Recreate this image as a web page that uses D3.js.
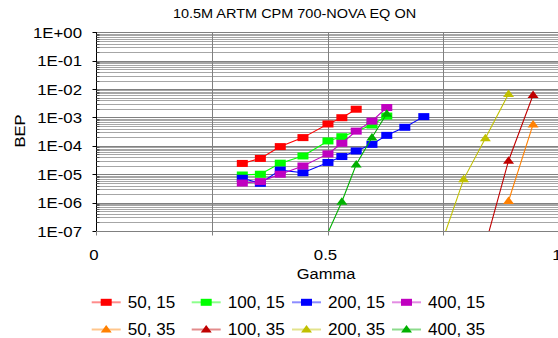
<!DOCTYPE html>
<html>
<head>
<meta charset="utf-8">
<script src="https://cdn.jsdelivr.net/npm/d3@7"></script>
<style>
  body { margin: 0; background: #fff; }
  svg { display: block; font-family: "Liberation Sans", Arial, sans-serif; }
</style>
</head>
<body>
<div id="chart"></div>
<script>
// series data (Gamma, BEP)
const seriesNames = ['50, 15', '100, 15', '200, 15', '400, 15', '50, 35', '100, 35', '200, 35', '400, 35'];
const gamma50_15 = [0.316, 0.355, 0.398, 0.447, 0.501, 0.531, 0.562];
const bep50_15 = [2.4e-5, 3.6e-5, 9.4e-5, 1.95e-4, 5.9e-4, 9.8e-4, 1.95e-3];
const gamma100_15 = [0.316, 0.355, 0.398, 0.447, 0.501, 0.531, 0.596, 0.628];
const bep100_15 = [9.4e-6, 1.0e-5, 2.45e-5, 4.4e-5, 1.49e-4, 2.1e-4, 5.4e-4, 1.12e-3];
const gamma200_15 = [0.316, 0.355, 0.398, 0.447, 0.501, 0.531, 0.562, 0.596, 0.628, 0.667, 0.708];
const bep200_15 = [7.2e-6, 4.8e-6, 1.4e-5, 1.13e-5, 2.6e-5, 4.2e-5, 6.6e-5, 1.13e-4, 2.34e-4, 4.5e-4, 1.07e-3];
const gamma400_15 = [0.316, 0.355, 0.398, 0.447, 0.501, 0.531, 0.562, 0.596, 0.628];
const bep400_15 = [4.9e-6, 5.5e-6, 1.0e-5, 1.95e-5, 5.2e-5, 1.23e-4, 3.3e-4, 7.4e-4, 2.24e-3];
const gamma50_35 = [0.891, 0.944];
const bep50_35 = [1.14e-6, 5.7e-4];
const gamma100_35 = [0.841, 0.891, 0.944];
const bep100_35 = [3.3e-8, 3.0e-5, 6.2e-3];
const gamma200_35 = [0.750, 0.794, 0.841, 0.891];
const bep200_35 = [5.5e-8, 6.6e-6, 1.85e-4, 6.7e-3];
const gamma400_35 = [0.501, 0.531, 0.562, 0.596, 0.628];
const bep400_35 = [8.7e-8, 1.07e-6, 2.2e-5, 1.96e-4, 1.35e-3];
const xTickLabels = [0, 0.5, 1];
const yTickLabels = ['1E+00', '1E-01', '1E-02', '1E-03', '1E-04', '1E-05', '1E-06', '1E-07'];

const colors = ['#ff0000', '#00ff00', '#0000ff', '#c000c0', '#ff8000', '#c00000', '#c0c000', '#00b000'];
const shapes = ['square', 'square', 'square', 'square', 'tri', 'tri', 'tri', 'tri'];
const allGamma = [gamma50_15, gamma100_15, gamma200_15, gamma400_15, gamma50_35, gamma100_35, gamma200_35, gamma400_35];
const allBep = [bep50_15, bep100_15, bep200_15, bep400_15, bep50_35, bep100_35, bep200_35, bep400_35];

const series = seriesNames.map((name, i) => ({
  name, color: colors[i], shape: shapes[i],
  values: allGamma[i].map((g, j) => ({ g, b: allBep[i][j] }))
}));

const width = 558, height = 338;
const plot = { left: 96, right: 559, top: 32.3, bottom: 231 };

const svg = d3.select('#chart').append('svg')
  .attr('width', width)
  .attr('height', height);

const x = d3.scaleLinear().domain([0, 1]).range([plot.left, plot.right]);
const y = d3.scaleLog().domain([1e-7, 1]).range([plot.bottom, plot.top]);

// stretched text like the original export
function label(sel, px, py, sx) {
  return sel.attr('transform', `translate(${px},${py}) scale(${sx},1)`);
}

// minor + major horizontal grid
const minor = [];
for (let e = -7; e < 0; e++) for (let m = 2; m <= 9; m++) minor.push(m * Math.pow(10, e));
const majorY = d3.range(-7, 1).map(e => Math.pow(10, e));

svg.append('g').selectAll('line').data(minor).enter().append('line')
  .attr('x1', plot.left).attr('x2', plot.right)
  .attr('y1', d => Math.round(y(d)) + 0.5).attr('y2', d => Math.round(y(d)) + 0.5)
  .attr('stroke', '#a6a6a6').attr('stroke-width', 1);

svg.append('g').selectAll('line').data(majorY).enter().append('line')
  .attr('x1', plot.left).attr('x2', plot.right)
  .attr('y1', d => Math.round(y(d)) + 0.5).attr('y2', d => Math.round(y(d)) + 0.5)
  .attr('stroke', '#808080').attr('stroke-width', 1);

// vertical grid
const xGrid = [0.25, 0.5, 0.75, 1];
svg.append('g').selectAll('line').data(xGrid).enter().append('line')
  .attr('x1', d => Math.round(x(d)) + 0.5).attr('x2', d => Math.round(x(d)) + 0.5)
  .attr('y1', plot.top).attr('y2', plot.bottom)
  .attr('stroke', '#808080').attr('stroke-width', 1);

// axes
const yAxisX = plot.left + 0.5;
svg.append('line')
  .attr('x1', yAxisX).attr('x2', yAxisX)
  .attr('y1', plot.top).attr('y2', plot.bottom + 0.5)
  .attr('stroke', '#000');
svg.append('g').selectAll('line').data(majorY).enter().append('line')
  .attr('x1', yAxisX - 4).attr('x2', yAxisX)
  .attr('y1', d => Math.round(y(d)) + 0.5).attr('y2', d => Math.round(y(d)) + 0.5)
  .attr('stroke', '#000');
svg.append('g').selectAll('line').data(minor).enter().append('line')
  .attr('x1', yAxisX).attr('x2', yAxisX + 3)
  .attr('y1', d => Math.round(y(d)) + 0.5).attr('y2', d => Math.round(y(d)) + 0.5)
  .attr('stroke', '#555');

const xAxisY = Math.round(plot.bottom) + 0.5;
svg.append('line')
  .attr('x1', plot.left).attr('x2', plot.right)
  .attr('y1', xAxisY).attr('y2', xAxisY)
  .attr('stroke', '#808080');
svg.append('g').selectAll('line').data([0, 0.25, 0.5, 0.75, 1]).enter().append('line')
  .attr('x1', d => Math.round(x(d)) + 0.5).attr('x2', d => Math.round(x(d)) + 0.5)
  .attr('y1', xAxisY).attr('y2', xAxisY + 4)
  .attr('stroke', '#808080');

// y tick labels
svg.append('g').selectAll('text').data(yTickLabels).enter().append('text')
  .each(function (d, i) { label(d3.select(this), 82, y(Math.pow(10, -i)) + 5.5, 1.12); })
  .attr('text-anchor', 'end')
  .attr('font-size', 15)
  .attr('fill', '#000')
  .text(d => d);

// x tick labels
svg.append('g').selectAll('text').data(xTickLabels).enter().append('text')
  .each(function (d) { label(d3.select(this), x(d) - 2, 260, 1.12); })
  .attr('text-anchor', 'middle')
  .attr('font-size', 15)
  .attr('fill', '#000')
  .text(d => d);

// axis titles
label(svg.append('text'), 326, 279, 1.1)
  .attr('text-anchor', 'middle').attr('font-size', 15).text('Gamma');
svg.append('text')
  .attr('transform', 'translate(25,131) rotate(-90) scale(1.1,1)')
  .attr('text-anchor', 'middle').attr('font-size', 15).text('BEP');

// chart title
label(svg.append('text'), 294.5, 18, 1.16)
  .attr('text-anchor', 'middle').attr('font-size', 12.5).text('10.5M ARTM CPM 700-NOVA EQ ON');

// data lines
svg.append('clipPath').attr('id', 'plot-clip').append('rect')
  .attr('x', plot.left).attr('y', plot.top)
  .attr('width', plot.right - plot.left).attr('height', plot.bottom - plot.top);

const line = d3.line().x(d => x(d.g)).y(d => y(d.b));

const marker = (sel, shape, color) => {
  if (shape === 'square') {
    sel.append('rect').attr('x', -5.5).attr('y', -3.5).attr('width', 11).attr('height', 7).attr('fill', color);
  } else {
    sel.append('path').attr('d', 'M0,-4.5L5.5,3L-5.5,3Z').attr('fill', color);
  }
};

const sg = svg.append('g').selectAll('g').data(series).enter().append('g');
sg.append('path')
  .attr('d', d => line(d.values))
  .attr('clip-path', 'url(#plot-clip)')
  .attr('fill', 'none')
  .attr('stroke', d => d.color)
  .attr('stroke-width', 1.1);
sg.each(function (s) {
  d3.select(this).selectAll('g.pt')
    .data(s.values.filter(v => v.b >= 1e-7))
    .enter().append('g')
    .attr('class', 'pt')
    .attr('transform', v => `translate(${x(v.g)},${y(v.b)})`)
    .each(function () { marker(d3.select(this), s.shape, s.color); });
});

// legend
const legX = [91.7, 191.7, 292, 392];
const legY = [302.3, 329.5];
const leg = svg.append('g').selectAll('g').data(series).enter().append('g')
  .attr('transform', (d, i) => `translate(${legX[i % 4]},${legY[Math.floor(i / 4)]})`);
leg.append('line')
  .attr('x1', 0).attr('x2', 29).attr('y1', 0).attr('y2', 0)
  .attr('stroke', d => d.color).attr('stroke-width', 2).attr('stroke-opacity', 0.45);
leg.each(function (d) { marker(d3.select(this).append('g').attr('transform', 'translate(14.5,0)'), d.shape, d.color); });
leg.append('text')
  .attr('transform', 'translate(36,5.8) scale(1.07,1)')
  .attr('font-size', 16)
  .text(d => d.name);
</script>
</body>
</html>
